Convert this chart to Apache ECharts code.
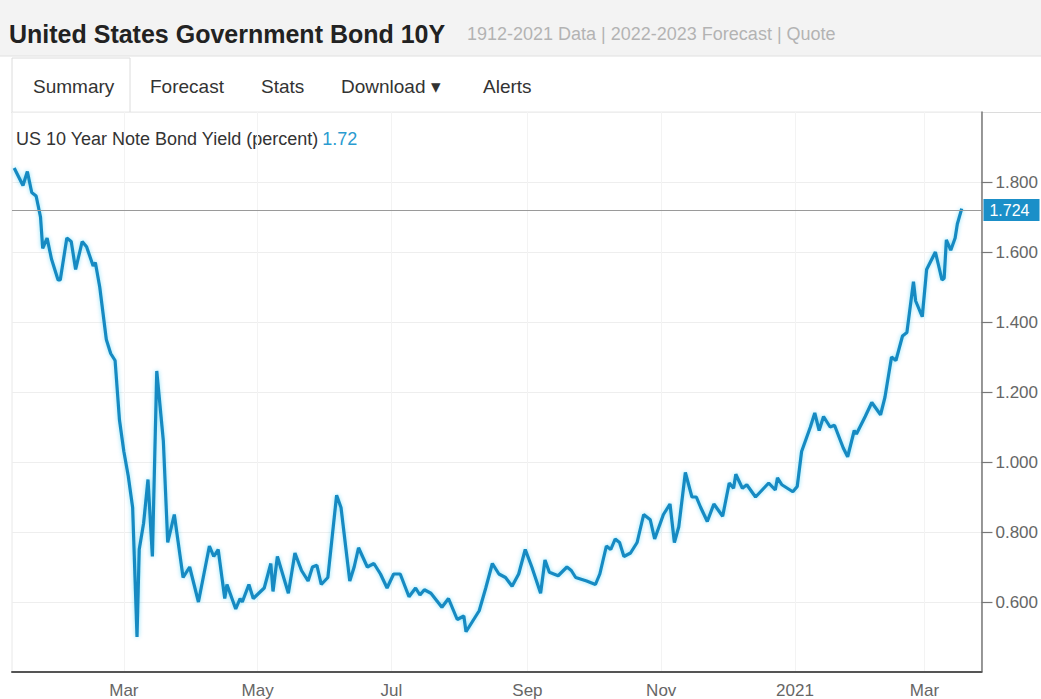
<!DOCTYPE html>
<html><head><meta charset="utf-8">
<script src="https://cdn.jsdelivr.net/npm/echarts@6/dist/echarts.min.js"></script>
<style>html,body{margin:0;padding:0;background:#fff;overflow:hidden;} #chart{width:1041px;height:699px;}</style>
</head><body><div id="chart"></div>
<script>
// ---- data ----
const dates = [
'2020-01-11','2020-01-15','2020-01-17','2020-01-19','2020-01-21','2020-01-23','2020-01-24','2020-01-26','2020-01-28','2020-01-31',
'2020-02-01','2020-02-04','2020-02-06','2020-02-08','2020-02-11','2020-02-13','2020-02-16','2020-02-17','2020-02-19','2020-02-22',
'2020-02-24','2020-02-26','2020-02-28','2020-03-01','2020-03-03','2020-03-05','2020-03-07','2020-03-08','2020-03-10','2020-03-12',
'2020-03-14','2020-03-16','2020-03-19','2020-03-21','2020-03-24','2020-03-28','2020-03-31','2020-04-04','2020-04-09','2020-04-11',
'2020-04-13','2020-04-16','2020-04-17','2020-04-21','2020-04-23','2020-04-24','2020-04-27','2020-04-29','2020-05-04','2020-05-07',
'2020-05-08','2020-05-10','2020-05-15','2020-05-18','2020-05-21','2020-05-24','2020-05-26','2020-05-28','2020-05-30','2020-06-02',
'2020-06-06','2020-06-08','2020-06-12','2020-06-14','2020-06-16','2020-06-20','2020-06-23','2020-06-26','2020-06-29','2020-07-02',
'2020-07-05','2020-07-09','2020-07-12','2020-07-14','2020-07-16','2020-07-19','2020-07-24','2020-07-27','2020-07-31','2020-08-03',
'2020-08-04','2020-08-07','2020-08-10','2020-08-13','2020-08-16','2020-08-19','2020-08-22','2020-08-25','2020-08-28','2020-08-31',
'2020-09-03','2020-09-07','2020-09-09','2020-09-11','2020-09-15','2020-09-19','2020-09-21','2020-09-23','2020-09-28','2020-10-02',
'2020-10-04','2020-10-07','2020-10-09','2020-10-11','2020-10-13','2020-10-15','2020-10-18','2020-10-21','2020-10-24','2020-10-27',
'2020-10-29','2020-11-02','2020-11-05','2020-11-07','2020-11-09','2020-11-12','2020-11-15','2020-11-17','2020-11-19','2020-11-22',
'2020-11-25','2020-11-29','2020-12-02','2020-12-04','2020-12-05','2020-12-08','2020-12-10','2020-12-14','2020-12-17','2020-12-20',
'2020-12-23','2020-12-24','2020-12-26','2020-12-31','2021-01-02','2021-01-04','2021-01-08','2021-01-10','2021-01-12','2021-01-14',
'2021-01-17','2021-01-19','2021-01-23','2021-01-25','2021-01-28','2021-01-29','2021-02-02','2021-02-05','2021-02-09','2021-02-11',
'2021-02-14','2021-02-16','2021-02-19','2021-02-21','2021-02-24','2021-02-25','2021-02-28','2021-03-02','2021-03-06','2021-03-09',
'2021-03-10','2021-03-11','2021-03-13','2021-03-15','2021-03-16','2021-03-18'
];
const yields = [
1.84,1.79,1.83,1.77,1.76,1.70,1.61,1.64,1.58,1.52,
1.52,1.64,1.63,1.55,1.63,1.615,1.56,1.57,1.50,1.35,
1.31,1.29,1.12,1.03,0.96,0.87,0.50,0.75,0.825,0.95,
0.73,1.26,1.06,0.77,0.85,0.67,0.70,0.60,0.76,0.73,
0.75,0.61,0.65,0.58,0.61,0.60,0.65,0.61,0.64,0.71,
0.63,0.73,0.625,0.74,0.69,0.66,0.70,0.705,0.65,0.67,
0.905,0.87,0.66,0.70,0.755,0.70,0.71,0.68,0.64,0.68,
0.68,0.615,0.64,0.62,0.635,0.625,0.585,0.61,0.55,0.56,
0.515,0.545,0.575,0.64,0.71,0.68,0.67,0.645,0.68,0.75,
0.70,0.625,0.72,0.685,0.675,0.70,0.69,0.67,0.66,0.65,
0.68,0.76,0.75,0.78,0.77,0.73,0.74,0.77,0.85,0.835,
0.78,0.85,0.88,0.77,0.815,0.97,0.90,0.90,0.87,0.83,
0.88,0.845,0.94,0.925,0.965,0.925,0.935,0.90,0.92,0.94,
0.92,0.955,0.935,0.915,0.93,1.03,1.10,1.14,1.09,1.13,
1.10,1.105,1.04,1.015,1.09,1.08,1.13,1.17,1.135,1.185,
1.30,1.29,1.36,1.37,1.515,1.46,1.415,1.55,1.60,1.52,
1.525,1.635,1.605,1.64,1.68,1.724
];
const xRange = ['2020-01-10','2021-03-27'];
const xTickDates = ['2020-03-01','2020-05-01','2020-07-01','2020-09-01','2020-11-01','2021-01-01','2021-03-01'];
const xTickLabels = ['Mar','May','Jul','Sep','Nov','2021','Mar'];
const yRange = [0.4, 2.0];
const yStep = 0.2;
const titleText = 'United States Government Bond 10Y';
const subtitleText = '1912-2021 Data | 2022-2023 Forecast | Quote';
const tabLabels = ['Summary','Forecast','Stats','Download \u25BE','Alerts'];
const seriesName = 'US 10 Year Note Bond Yield (percent)';
const shortValue = '1.72';

// ---- build ----
function toTs(s){ const p = s.split('-').map(Number); return Date.UTC(p[0], p[1]-1, p[2]); }
const tickTs = xTickDates.map(toTs);
const seriesData = dates.map((d,i) => [toTs(d), yields[i]]);
const lastValue = yields[yields.length-1];
const FONT = '"Liberation Sans", Arial, Helvetica, sans-serif';
const tabX = [33, 150, 261, 341, 483];

const chart = echarts.init(document.getElementById('chart'), null, {renderer:'svg'});
const graphics = [
  {type:'rect', z:-10, shape:{x:0,y:0,width:1041,height:56}, style:{fill:'#f3f3f3'}},
  {type:'line', shape:{x1:0,y1:56,x2:1041,y2:56}, style:{stroke:'#e0e0e0', lineWidth:1}},
  {type:'text', x:9, y:34, style:{text:titleText, font:'bold 25px ' + FONT, fill:'#222', verticalAlign:'middle'}},
  {type:'text', x:467, y:34, style:{text:subtitleText, font:'18px ' + FONT, fill:'#b3b3b3', verticalAlign:'middle'}},
  {type:'polyline', shape:{points:[[12,113],[12,58],[130,58],[130,112.5],[1041,112.5]]}, style:{stroke:'#dcdcdc', fill:null, lineWidth:1}},
  {type:'text', x:16, y:139, style:{
      text:'{a|' + seriesName + '} {b|' + shortValue + '}',
      verticalAlign:'middle',
      rich:{a:{fontSize:18, fontFamily:FONT, fill:'#333'}, b:{fontSize:18, fontFamily:FONT, fill:'#2a9bd0'}}
  }}
];
tabLabels.forEach((t,i) => graphics.push({type:'text', x:tabX[i], y:86, style:{text:t, font:'19px ' + FONT, fill:'#333', verticalAlign:'middle'}}));

chart.setOption({
  animation:false,
  backgroundColor:'#ffffff',
  graphic: graphics,
  grid:{left:12, right:58, top:112, bottom:27, show:true, borderColor:'#e8e8e8', borderWidth:1, containLabel:false},
  xAxis:{
    type:'value', min:toTs(xRange[0]), max:toTs(xRange[1]),
    axisLine:{show:true, onZero:false, lineStyle:{color:'#555', width:2}},
    axisTick:{show:false, customValues:tickTs},
    axisLabel:{customValues:tickTs, formatter:v => { const i = tickTs.indexOf(v); return i >= 0 ? xTickLabels[i] : ''; },
               color:'#666', fontSize:17, fontFamily:FONT, margin:10},
    splitLine:{show:true, lineStyle:{color:'#f3f3f3', width:1}}
  },
  yAxis:{
    type:'value', position:'right', min:yRange[0], max:yRange[1], interval:yStep,
    axisLine:{show:true, lineStyle:{color:'#777', width:1.5}},
    axisTick:{show:true, length:11, lineStyle:{color:'#777', width:1.2}},
    axisLabel:{formatter:v => v.toFixed(3), showMinLabel:false, showMaxLabel:false, color:'#666', fontSize:17, fontFamily:FONT, margin:14},
    splitLine:{show:true, lineStyle:{color:'#eeeeee', width:1}}
  },
  series:[{
    type:'line', name:seriesName, data:seriesData, showSymbol:false, smooth:false,
    lineStyle:{color:'#168ac2', width:3.2, shadowColor:'rgba(0,190,240,0.45)', shadowBlur:4},
    markLine:{
      silent:true, symbol:['none','none'], animation:false,
      data:[{yAxis:lastValue}],
      lineStyle:{color:'#9a9a9a', width:1, type:'solid'},
      label:{position:'end', formatter:lastValue.toFixed(3), color:'#ffffff', backgroundColor:'#1b8fc8',
             padding:[3,10,3,6], fontSize:16, fontFamily:FONT, distance:2}
    }
  }]
});
</script>
</body></html>
